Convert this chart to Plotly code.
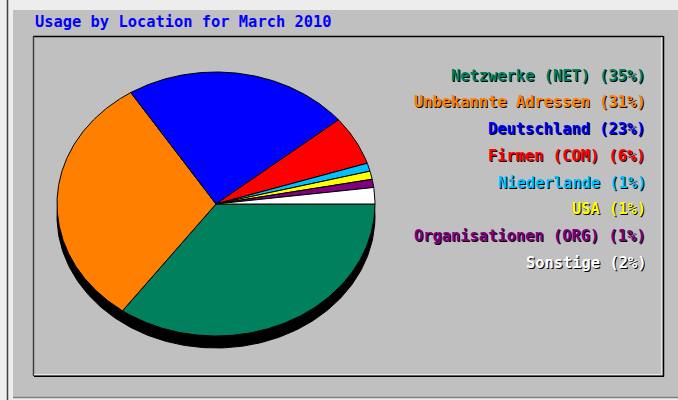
import numpy as np
import plotly.graph_objects as go

# ---- data ----
categories = ["Netzwerke (NET)", "Unbekannte Adressen", "Deutschland", "Firmen (COM)",
              "Niederlande", "USA", "Organisationen (ORG)", "Sonstige"]
percents = [35, 31, 23, 6, 1, 1, 1, 2]
slice_colors = ["#00805c", "#ff8000", "#0000ff", "#ff0000",
                "#00c0ff", "#ffff00", "#800080", "#ffffff"]
chart_title = "Usage by Location for March 2010"

# ---- layout constants (pixels) ----
W, H = 678, 400
CX, CY = 216, 204          # pie centre
RX, RY = 159, 132          # pie radii
DEPTH = 12                 # 3-D side depth
FONT = dict(family="DejaVu Sans Mono", size=15.4, weight="bold")


def px(x):
    return x / W


def py(y):
    return 1 - y / H


fig = go.Figure()

# 3-D side (shadow) of the pie, unit ellipse shifted down
t = np.linspace(0, 2 * np.pi, 361)
fig.add_trace(go.Scatter(x=np.cos(t), y=np.sin(t) - DEPTH / RY, mode="lines",
                         fill="toself", fillcolor="black",
                         line=dict(color="black", width=1), hoverinfo="skip",
                         showlegend=False))

total = float(sum(percents))
cum = 0.0
for cat, val, col in zip(categories, percents, slice_colors):
    a0 = 2 * np.pi * cum / total
    cum += val
    a1 = 2 * np.pi * cum / total
    n = max(3, int(np.degrees(a1 - a0)) * 2 + 2)
    ang = np.linspace(a0, a1, n)
    xs = np.concatenate([[0], np.cos(ang), [0]])
    ys = np.concatenate([[0], -np.sin(ang), [0]])
    fig.add_trace(go.Scatter(x=xs, y=ys, mode="lines", fill="toself",
                             fillcolor=col, line=dict(color="black", width=1),
                             name=cat, hoverinfo="skip", showlegend=False))

shapes = [
    # left page rule
    dict(type="line", xref="paper", yref="paper", x0=px(7.5), x1=px(7.5), y0=0, y1=1,
         line=dict(color="#404040", width=1.5), layer="below"),
    # grey panel
    dict(type="rect", xref="paper", yref="paper", x0=px(13), x1=px(W + 2), y0=py(397), y1=py(10),
         fillcolor="#c0c0c0", line=dict(width=0), layer="below"),
    dict(type="line", xref="paper", yref="paper", x0=px(13), x1=px(W), y0=py(397.5), y1=py(397.5),
         line=dict(color="#808080", width=1.5), layer="below"),
    # inner frame
    dict(type="line", xref="paper", yref="paper", x0=px(33), x1=px(663), y0=py(36.5), y1=py(36.5),
         line=dict(color="#000000", width=1.5), layer="below"),
    dict(type="line", xref="paper", yref="paper", x0=px(33.5), x1=px(33.5), y0=py(36), y1=py(376),
         line=dict(color="#404040", width=1.5), layer="below"),
    dict(type="line", xref="paper", yref="paper", x0=px(661.5), x1=px(661.5), y0=py(37), y1=py(374.5),
         line=dict(color="#e8e8e8", width=1), layer="below"),
    dict(type="line", xref="paper", yref="paper", x0=px(34), x1=px(661.5), y0=py(374.5), y1=py(374.5),
         line=dict(color="#e8e8e8", width=1), layer="below"),
    dict(type="line", xref="paper", yref="paper", x0=px(663.5), x1=px(663.5), y0=py(36), y1=py(376.5),
         line=dict(color="#000000", width=1.5), layer="below"),
    dict(type="line", xref="paper", yref="paper", x0=px(34), x1=px(664), y0=py(376.2), y1=py(376.2),
         line=dict(color="#000000", width=1.5), layer="below"),
]

annotations = [dict(xref="paper", yref="paper", x=px(33), y=py(22), xanchor="left",
                    yanchor="middle", text=chart_title, showarrow=False,
                    font=dict(FONT, color="#0000ff"))]
for i, (cat, val, col) in enumerate(zip(categories, percents, slice_colors)):
    label = f"{cat} ({val}%)"
    yy = py(75.7 + 26.7 * i)
    annotations.append(dict(xref="paper", yref="paper", x=px(648), y=yy, xanchor="right",
                            yanchor="middle", text=label, showarrow=False,
                            xshift=1, yshift=-1, font=dict(FONT, color="#000000")))
    annotations.append(dict(xref="paper", yref="paper", x=px(648), y=yy, xanchor="right",
                            yanchor="middle", text=label, showarrow=False,
                            font=dict(FONT, color=col)))

fig.update_layout(
    width=W, height=H, margin=dict(l=0, r=0, t=0, b=0),
    paper_bgcolor="#ededed", plot_bgcolor="rgba(0,0,0,0)",
    xaxis=dict(range=[(0 - CX) / RX, (W - CX) / RX], visible=False, fixedrange=True),
    yaxis=dict(range=[(CY - H) / RY, CY / RY], visible=False, fixedrange=True),
    shapes=shapes, annotations=annotations, showlegend=False,
)

fig.write_html("out.html", config=dict(displayModeBar=False, staticPlot=True),
               post_script="document.body.style.margin='0';document.body.style.overflow='hidden';")
